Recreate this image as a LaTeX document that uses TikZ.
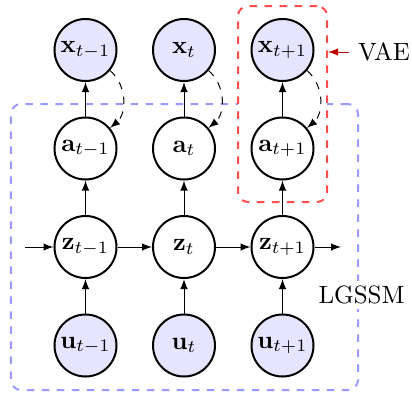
\documentclass[tikz,border=0pt]{standalone}
\usetikzlibrary{arrows}
\begin{document}
\begin{tikzpicture}[x=0.4pt,y=-0.4pt,
  var/.style={circle,draw=black,thick,minimum size=24.8pt,inner sep=0pt},
  obs/.style={var,fill=blue!10},
  lat/.style={var,fill=white},
  edge/.style={-latex,line width=0.4pt},
  gen/.style={-latex,dashed,line width=0.4pt},
  lgssmbox/.style={draw=blue!40,thick,dashed,rounded corners=4pt,minimum width=138.8pt,minimum height=114.4pt,inner sep=0pt},
  vaebox/.style={draw=red!70,thick,dashed,rounded corners=4pt,fill=white,minimum width=35.6pt,minimum height=78.4pt,inner sep=0pt},
  lbl/.style={fill=white,inner sep=2pt}]
\useasboundingbox (0,0) rectangle (412,394);
\node[lgssmbox] (lg) at (184.5,247) {};
\node[vaebox] (vb) at (282.5,104) {};
\node[lbl] (lgl) at (361.5,295) {LGSSM};
\node (vael) at (384,52) {VAE};
\draw[-latex,red!75!black,line width=0.4pt] (vael.west) -- (vael.west -| vb.east);
% nodes
\foreach \i/\x/\s in {1/85.5/{t-1},2/184/t,3/282.5/{t+1}}{
  \node[obs] (x\i) at (\x,50) {$\mathbf{x}_{\s}$};
  \node[lat] (a\i) at (\x,148.5) {$\mathbf{a}_{\s}$};
  \node[lat] (z\i) at (\x,247) {$\mathbf{z}_{\s}$};
  \node[obs] (u\i) at (\x,345.5) {$\mathbf{u}_{\s}$};
  \draw[edge] (a\i) -- (x\i);
  \draw[edge] (z\i) -- (a\i);
  \draw[edge] (u\i) -- (z\i);
  \draw[gen] (x\i.-40) to[bend left=50] (a\i.40);
}
\coordinate (zin) at (25,247);
\coordinate (zout) at (341,247);
\draw[edge] (zin) -- (z1);
\draw[edge] (z1) -- (z2);
\draw[edge] (z2) -- (z3);
\draw[edge] (z3) -- (zout);
\end{tikzpicture}
\end{document}
